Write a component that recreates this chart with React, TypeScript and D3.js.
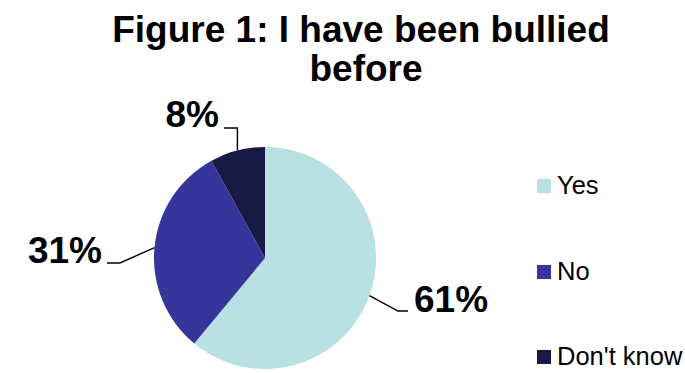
import React from "react";
import * as d3 from "d3";

const categories = ["Yes", "No", "Don't know"];
const values = [61, 31, 8];
const colors = ["#B9E0E3", "#35359B", "#191946"];
const titleLines = ["Figure 1: I have been bullied", "before"];

const W = 685, H = 373;
const cx = 265, cy = 258, R = 111;

export default function App() {
  const pie = d3.pie<number>().sort(null).value((d) => d)(values);
  const arc = d3.arc<d3.PieArcDatum<number>>().innerRadius(0).outerRadius(R);
  const total = d3.sum(values);
  const labelCfg = [
    { tx: 414, ty: 312, anchor: "start", elbow: (p: [number, number]) => [[398, 311], [408, 311]] },
    { tx: 102, ty: 263, anchor: "end", elbow: (p: [number, number]) => [[120, 263], [107, 263]] },
    { tx: 219, ty: 127, anchor: "end", elbow: (p: [number, number]) => [[p[0], 128], [224, 128]] },
  ];
  const font = "'Liberation Sans', Arial, Helvetica, sans-serif";
  return (
    <svg width={W} height={H} style={{ position: "absolute", left: 0, top: 0 }} fontFamily={font}>
      <rect width={W} height={H} fill="#fff" />
      <text x={361} y={42} textAnchor="middle" fontSize={37} fontWeight="bold">{titleLines[0]}</text>
      <text x={366} y={81} textAnchor="middle" fontSize={37} fontWeight="bold">{titleLines[1]}</text>
      <g transform={`translate(${cx},${cy})`}>
        {pie.map((d, i) => (
          <path key={i} d={arc(d) || ""} fill={colors[i]} />
        ))}
      </g>
      {pie.map((d, i) => {
        const ang = (d.startAngle + d.endAngle) / 2;
        const p: [number, number] = [cx + R * Math.sin(ang), cy - R * Math.cos(ang)];
        const cfg = labelCfg[i];
        const pts = [p, ...cfg.elbow(p)];
        return (
          <g key={i}>
            <polyline points={pts.map((q) => q.join(",")).join(" ")} fill="none" stroke="#000" strokeWidth={1.4} />
            <text x={cfg.tx} y={cfg.ty} textAnchor={cfg.anchor as any} fontSize={37} fontWeight="bold">
              {Math.round((d.data / total) * 100)}%
            </text>
          </g>
        );
      })}
      {categories.map((c, i) => {
        const y = [179, 265, 350][i];
        return (
          <g key={c}>
            <rect x={537} y={y} width={14} height={14} fill={colors[i]} />
            <text x={557} y={y + 15} fontSize={25.5}>{c}</text>
          </g>
        );
      })}
    </svg>
  );
}
